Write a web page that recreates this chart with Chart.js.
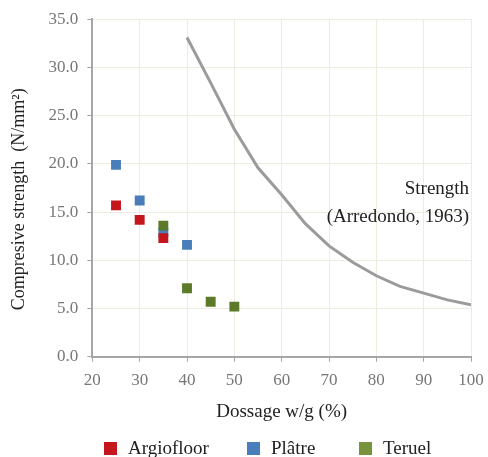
<!DOCTYPE html>
<html>
<head>
<meta charset="utf-8">
<script src="https://cdn.jsdelivr.net/npm/chart.js@4/dist/chart.umd.min.js"></script>
<style>
html,body{margin:0;padding:0;background:#fff;}
#wrap{width:488px;height:457px;}
</style>
</head>
<body>
<div id="wrap"><canvas id="c" width="488" height="457"></canvas></div>
<script>
const argioX = [25, 30, 35];
const argioY = [15.7, 14.2, 12.3];
const platreX = [25, 30, 35, 40];
const platreY = [19.9, 16.2, 12.9, 11.6];
const teruelX = [35, 40, 45, 50];
const teruelY = [13.6, 7.1, 5.7, 5.2];
const strengthX = [40, 45, 50, 55, 60, 65, 70, 75, 80, 85, 90, 95, 100];
const strengthY = [33.1, 28.4, 23.6, 19.6, 16.8, 13.8, 11.5, 9.8, 8.4, 7.3, 6.6, 5.9, 5.4];
const annotationLines = ["Strength", "(Arredondo, 1963)"];
const legendNames = ["Argiofloor", "Plâtre", "Teruel"];
const legendColors = ["#c4161c", "#4a7ebb", "#77933c"];

const pts = (xs, ys) => xs.map((x, i) => ({x: x, y: ys[i]}));
const serif = "'Liberation Serif', 'Times New Roman', serif";

const annot = {
  id: 'annot',
  afterDatasetsDraw(chart) {
    const ctx = chart.ctx;
    const xs = chart.scales.x, ys = chart.scales.y;
    ctx.save();
    ctx.font = "19px " + serif;
    ctx.fillStyle = "#222";
    ctx.textAlign = "right";
    ctx.textBaseline = "middle";
    const rx = xs.getPixelForValue(99.6);
    ctx.fillText(annotationLines[0], rx, ys.getPixelForValue(17.4));
    ctx.fillText(annotationLines[1], rx, ys.getPixelForValue(14.5));
    ctx.restore();
  }
};

const customLegend = {
  id: 'customLegend',
  afterDraw(chart) {
    const ctx = chart.ctx;
    const w = chart.width;
    const cy = chart.height - 8;
    const itemX = [0.213, 0.506, 0.736];
    ctx.save();
    ctx.font = "19px " + serif;
    ctx.textBaseline = "middle";
    ctx.textAlign = "left";
    legendNames.forEach((n, i) => {
      const x = Math.round(w * itemX[i]);
      ctx.fillStyle = legendColors[i];
      ctx.fillRect(x, cy - 7, 13, 13);
      ctx.fillStyle = "#222";
      ctx.fillText(n, x + 24, cy);
    });
    ctx.restore();
  }
};

new Chart(document.getElementById('c'), {
  type: 'scatter',
  data: {
    datasets: [
      {label: 'Strength', data: pts(strengthX, strengthY), showLine: true, borderColor: '#9b9b9b', borderWidth: 3, pointRadius: 0, fill: false, order: 4},
      {label: legendNames[0], data: pts(argioX, argioY), pointStyle: 'rect', pointRadius: 7, backgroundColor: '#c4161c', borderColor: '#c4161c', borderWidth: 0, order: 2},
      {label: legendNames[1], data: pts(platreX, platreY), pointStyle: 'rect', pointRadius: 7, backgroundColor: '#4a7ebb', borderColor: '#4a7ebb', borderWidth: 0, order: 3},
      {label: legendNames[2], data: pts(teruelX, teruelY), pointStyle: 'rect', pointRadius: 7, backgroundColor: '#5b7a2a', borderColor: '#5b7a2a', borderWidth: 0, order: 1}
    ]
  },
  options: {
    responsive: false,
    animation: false,
    layout: {padding: {left: 8, right: 0, top: 12, bottom: 34}},
    plugins: {
      tooltip: {enabled: false},
      legend: {display: false}
    },
    scales: {
      x: {
        type: 'linear', min: 20, max: 100,
        afterFit: (s) => { s.paddingRight = 17; },
        ticks: {stepSize: 10, color: '#777', font: {family: serif, size: 17}, padding: 9},
        grid: {color: '#eeece1', tickColor: '#a6a6a6', tickLength: 5, lineWidth: 1},
        border: {color: '#a6a6a6', width: 2},
        title: {display: true, text: 'Dossage w/g (%)', color: '#222', font: {family: serif, size: 19}, padding: {top: 0, bottom: 0}}
      },
      y: {
        type: 'linear', min: 0, max: 35,
        ticks: {stepSize: 5, color: '#777', font: {family: serif, size: 17}, padding: 9, callback: (v) => v.toFixed(1)},
        grid: {color: '#eeece1', tickColor: '#a6a6a6', tickLength: 5, lineWidth: 1},
        border: {color: '#a6a6a6', width: 2},
        title: {display: true, text: 'Compresive strength  (N/mm²)     ', color: '#222', font: {family: serif, size: 18}, padding: {top: 0, bottom: 10}}
      }
    }
  },
  plugins: [annot, customLegend]
});
</script>
</body>
</html>
